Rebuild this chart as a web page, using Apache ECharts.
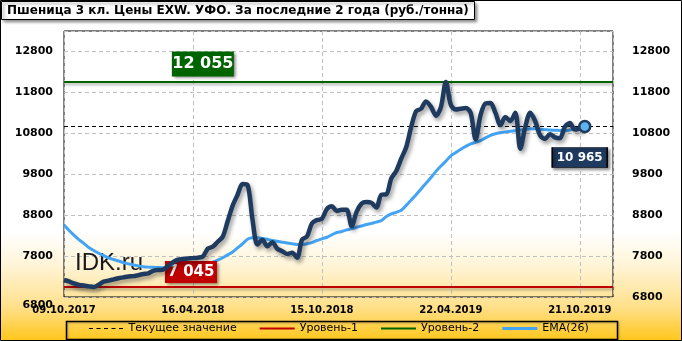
<!DOCTYPE html>
<html>
<head>
<meta charset="utf-8">
<script src="https://cdn.jsdelivr.net/npm/echarts@6/dist/echarts.min.js"></script>
<style>
html,body{margin:0;padding:0;background:#fff;}
#chart{width:682px;height:341px;}
</style>
</head>
<body>
<div id="chart"></div>
<script>
// ---------- DATA ----------
const titleText = 'Пшеница 3 кл. Цены EXW. УФО. За последние 2 года (руб./тонна)';
const startDate = '09.10.2017';
const skippedWeeks = ['01.01.2018', '31.12.2018'];
const categoryCount = 111;
const tickLabels = ['09.10.2017', '16.04.2018', '15.10.2018', '22.04.2019', '21.10.2019'];

const priceValues = [
  7215, 7180, 7130, 7095, 7080, 7060, 7045, 7100, 7175, 7200,
  7230, 7260, 7280, 7300, 7310, 7335, 7360, 7380, 7440, 7460,
  7470, 7560, 7650, 7710, 7730, 7740, 7750, 7760, 7790, 7980,
  8030, 8150, 8270, 8650, 9030, 9300, 9560, 9540, 8700, 8080,
  8200, 8040, 8140, 7980, 7920, 7850, 7880, 7760, 8200, 8280,
  8600, 8680, 8710, 8950, 9020, 8900, 8930, 8930, 8530, 8880,
  9080, 9120, 9100, 8990, 9300, 9310, 9700, 9880, 10180, 10460,
  10950, 11340, 11400, 11580, 11450, 11230, 11440, 12055, 11500, 11380,
  11400, 11420, 11300, 10650, 11250, 11530, 11540, 11300, 11000, 11200,
  11100, 11300, 10420, 10950, 11300, 11100, 10750, 10660, 10780, 10700,
  10680, 10960, 11050, 10890, 10920, 10965
];

const emaValues = [
  8560, 8430, 8310, 8200, 8110, 8010, 7935, 7870, 7810, 7755,
  7715, 7680, 7640, 7610, 7585, 7560, 7540, 7530, 7525, 7520,
  7515, 7515, 7515, 7520, 7525, 7530, 7545, 7565, 7590, 7620,
  7650, 7700, 7760, 7830, 7900, 8000, 8100, 8210, 8250, 8245,
  8230, 8210, 8180, 8160, 8140, 8120, 8100, 8085, 8080, 8100,
  8130, 8180, 8220, 8260, 8320, 8375, 8400, 8440, 8470, 8505,
  8535, 8570, 8600, 8630, 8670, 8765, 8830, 8870, 8920, 9040,
  9170, 9300, 9440, 9580, 9720, 9870, 10000, 10120, 10250, 10330,
  10410, 10480, 10540, 10580, 10620, 10690, 10750, 10790, 10815, 10835,
  10850, 10865, 10880, 10895, 10910, 10910, 10900, 10890, 10880, 10875,
  10870, 10865, 10880, 10900, 10915, 10930
];

const currentValue = 10965;
const level1 = 7045;
const level2 = 12055;
const yTicks = [6800, 7800, 8800, 9800, 10800, 11800, 12800];

// ---------- BUILD ----------
function parseD(s){ const p = s.split('.'); return new Date(+p[2], +p[1]-1, +p[0]); }
function fmtD(d){
  const dd = String(d.getDate()).padStart(2,'0');
  const mm = String(d.getMonth()+1).padStart(2,'0');
  return dd + '.' + mm + '.' + d.getFullYear();
}
const categories = [];
{
  let d = parseD(startDate);
  while (categories.length < categoryCount) {
    const s = fmtD(d);
    if (!skippedWeeks.includes(s)) categories.push(s);
    d = new Date(d.getFullYear(), d.getMonth(), d.getDate() + 7);
  }
}
function fmtNum(v){ return String(v).replace(/\B(?=(\d{3})+(?!\d))/g, ' '); }

const lastIdx = priceValues.length - 1;
const priceData = priceValues.map((v, i) => [i, v]);
const emaData = emaValues.map((v, i) => [i, v]);

const FONT = 'DejaVu Sans';
const NAVY = '#1F3A5F';

const lineIcon = 'path://M0,0h0.01v3h-0.01z M0,0.6h35v1.8h-35z';
const thickIcon = 'path://M0,0h35v3h-35z';
const dashIcon = 'path://M0,0h0.01v3h-0.01z M0,1h4v1.1h-4z M7.5,1h4v1.1h-4z M15,1h4v1.1h-4z M22.5,1h4v1.1h-4z M30,1h4v1.1h-4z';

const chart = echarts.init(document.getElementById('chart'), null, {renderer: 'canvas'});

function yLabel(shiftMin){
  return {
    fontFamily: FONT, fontWeight: 'bold', fontSize: 11, color: '#000',
    formatter: v => (shiftMin && v === yTicks[0]) ? '{low|' + v + '}' : String(v),
    rich: { low: { fontFamily: FONT, fontWeight: 'bold', fontSize: 11, color: '#000', padding: [16, 0, 0, 0] } }
  };
}

const option = {
  animation: false,
  backgroundColor: {
    type: 'linear', x: 0, y: 0, x2: 0, y2: 1,
    colorStops: [
      {offset: 0, color: '#FFFFFF'},
      {offset: 0.68, color: '#FFFFFF'},
      {offset: 0.78, color: '#FFF4D6'},
      {offset: 0.9, color: '#FFE08A'},
      {offset: 1, color: '#FFC61A'}
    ]
  },
  title: {
    text: titleText,
    left: 1, top: 1,
    padding: [3, 6, 3, 6],
    backgroundColor: '#FFFFFF',
    borderColor: '#000', borderWidth: 1,
    shadowBlur: 3, shadowColor: 'rgba(0,0,0,0.45)', shadowOffsetX: 2, shadowOffsetY: 2,
    textStyle: {fontFamily: FONT, fontWeight: 'bold', fontSize: 12, color: '#000', lineHeight: 13}
  },
  legend: {
    left: 89, top: 323, padding: 0,
    itemWidth: 35, itemHeight: 3, itemGap: 23,
    textStyle: {fontFamily: FONT, fontSize: 11, color: '#000'},
    data: [
      {name: 'Текущее значение', icon: dashIcon},
      {name: 'Уровень-1', icon: lineIcon},
      {name: 'Уровень-2', icon: lineIcon},
      {name: 'EMA(26)', icon: thickIcon}
    ]
  },
  grid: {
    left: 64, right: 69, top: 31, bottom: 44,
    show: true, borderColor: '#000', borderWidth: 1, backgroundColor: 'transparent'
  },
  xAxis: {
    type: 'value', min: 0, max: 110.7, interval: 26,
    axisLine: {show: false}, axisTick: {show: false},
    splitLine: {show: true, lineStyle: {color: '#C0C0C0', type: [4, 3], width: 1}},
    axisLabel: {
      showMaxLabel: false, margin: 8,
      fontFamily: FONT, fontWeight: 'bold', fontSize: 10, color: '#000',
      formatter: v => { const c = categories[Math.round(v)]; return tickLabels.includes(c) ? c : ''; }
    }
  },
  yAxis: [
    {
      type: 'value', min: 6800, max: 13300, interval: 1000, position: 'left',
      axisLine: {show: false}, axisTick: {show: false},
      splitLine: {show: true, lineStyle: {color: '#C0C0C0', type: [4, 3], width: 1}},
      axisLabel: Object.assign({showMaxLabel: false, margin: 11}, yLabel(true))
    },
    {
      type: 'value', min: 6800, max: 13300, interval: 1000, position: 'right',
      axisLine: {show: false}, axisTick: {show: false}, splitLine: {show: false},
      axisLabel: Object.assign({showMaxLabel: false, margin: 19}, yLabel(false))
    }
  ],
  graphic: [
    {type: 'rect', left: 64, top: 319, shape: {width: 551, height: 18},
     style: {fill: 'none', stroke: '#000', lineWidth: 1.5, shadowBlur: 2, shadowColor: 'rgba(0,0,0,0.3)', shadowOffsetX: 1, shadowOffsetY: 1}, z: 10},
    {type: 'text', left: 75, top: 251, style: {text: 'IDK.ru', font: '24px "Liberation Sans", Arial, sans-serif', fill: '#1a1a1a'}, z: 3},
    {type: 'rect', shape: {x: 0.5, y: 0.5, width: 681, height: 340}, style: {fill: 'none', stroke: '#000', lineWidth: 1}, z: 20, silent: true}
  ],
  series: [
    {
      name: 'Текущее значение', type: 'line', data: [], symbol: 'none',
      lineStyle: {color: '#000', type: [4, 3], width: 1},
      itemStyle: {color: '#000'},
      markLine: {
        silent: true, symbol: 'none', label: {show: false},
        lineStyle: {color: '#000', type: [4, 3], width: 1},
        data: [{yAxis: currentValue}]
      },
      z: 3
    },
    {
      name: 'Уровень-1', type: 'line', data: [], symbol: 'none',
      lineStyle: {color: '#C00000', width: 3}, itemStyle: {color: '#C00000'},
      markLine: {
        silent: true, symbol: 'none', label: {show: false},
        lineStyle: {color: '#C00000', type: 'solid', width: 2, shadowBlur: 3, shadowColor: 'rgba(0,0,0,0.35)', shadowOffsetY: 2},
        data: [{yAxis: level1}]
      },
      markPoint: {
        silent: true,
        symbol: 'rect', symbolSize: [52, 22], symbolOffset: [0, -15],
        itemStyle: {color: '#C00000', shadowBlur: 3, shadowColor: 'rgba(0,0,0,0.5)', shadowOffsetX: 2, shadowOffsetY: 2},
        label: {show: true, position: 'inside', color: '#fff', fontFamily: FONT, fontWeight: 'bold', fontSize: 15, formatter: () => fmtNum(level1)},
        data: [{coord: [25.6, level1]}]
      },
      z: 6
    },
    {
      name: 'Уровень-2', type: 'line', data: [], symbol: 'none',
      lineStyle: {color: '#006400', width: 3}, itemStyle: {color: '#006400'},
      markLine: {
        silent: true, symbol: 'none', label: {show: false},
        lineStyle: {color: '#006400', type: 'solid', width: 2, shadowBlur: 3, shadowColor: 'rgba(0,0,0,0.35)', shadowOffsetY: 2},
        data: [{yAxis: level2}]
      },
      markPoint: {
        silent: true,
        symbol: 'rect', symbolSize: [62, 25], symbolOffset: [0, -18],
        itemStyle: {color: '#006400', shadowBlur: 3, shadowColor: 'rgba(0,0,0,0.5)', shadowOffsetX: 2, shadowOffsetY: 2},
        label: {show: true, position: 'inside', color: '#fff', fontFamily: FONT, fontWeight: 'bold', fontSize: 16, formatter: () => fmtNum(level2)},
        data: [{coord: [28, level2]}]
      },
      z: 6
    },
    {
      name: 'EMA(26)', type: 'line', data: emaData, smooth: 0.3, symbol: 'none',
      lineStyle: {color: '#43A3F5', width: 3},
      itemStyle: {color: '#43A3F5'},
      z: 4
    },
    {
      name: 'Цена', type: 'line', data: priceData, smooth: 0.3,
      showSymbol: true, showAllSymbol: true,
      symbol: (val, params) => params.dataIndex === lastIdx ? 'circle' : 'none',
      symbolSize: 11,
      lineStyle: {color: NAVY, width: 4.5, shadowBlur: 4, shadowColor: 'rgba(0,0,0,0.4)', shadowOffsetX: 2, shadowOffsetY: 3},
      itemStyle: {color: '#5CB3EE', borderColor: NAVY, borderWidth: 2.5},
      markPoint: {
        silent: true,
        symbol: 'rect', symbolSize: [55, 20], symbolOffset: [-5, 31],
        itemStyle: {color: NAVY, borderColor: '#000', borderWidth: 1, shadowBlur: 3, shadowColor: 'rgba(0,0,0,0.5)', shadowOffsetX: 2, shadowOffsetY: 2},
        label: {show: true, position: 'inside', color: '#fff', fontFamily: FONT, fontWeight: 'bold', fontSize: 12, formatter: () => fmtNum(currentValue)},
        data: [{coord: [lastIdx, currentValue]}]
      },
      z: 5
    }
  ]
};
chart.setOption(option);
</script>
</body>
</html>
